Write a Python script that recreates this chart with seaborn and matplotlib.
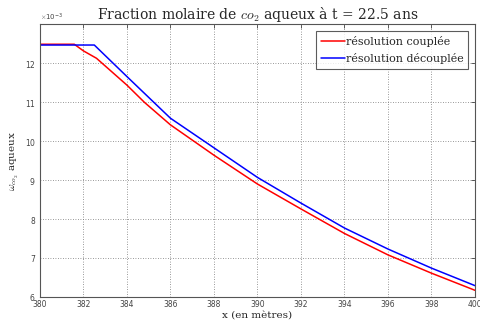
import matplotlib
matplotlib.use("Agg")
import matplotlib.pyplot as plt
import matplotlib.ticker as mticker
import seaborn as sns
import pandas as pd

# Data (y values in units of 1e-3)
x_couplee = [380, 381.58, 382.0, 382.6, 384.0, 384.8, 386.0, 388.0, 390.0, 392.0, 394.0, 396.0, 398.0, 400.0]
y_couplee = [12.49, 12.49, 12.32, 12.13, 11.44, 11.0, 10.42, 9.64, 8.90, 8.26, 7.63, 7.08, 6.61, 6.17]
x_decouplee = [380, 382.5, 384.0, 386.0, 388.0, 390.0, 391.0, 392.0, 394.0, 396.0, 398.0, 400.0]
y_decouplee = [12.47, 12.47, 11.66, 10.59, 9.83, 9.07, 8.74, 8.41, 7.77, 7.23, 6.74, 6.29]
scale = 1e-3
labels = ["résolution couplée", "résolution découplée"]

df = pd.concat([
    pd.DataFrame({"x": x_couplee, "y": [v * scale for v in y_couplee], "serie": labels[0]}),
    pd.DataFrame({"x": x_decouplee, "y": [v * scale for v in y_decouplee], "serie": labels[1]}),
])

sns.set_style("white")
plt.rcParams["mathtext.fontset"] = "cm"
serif = ["DejaVu Serif"]

fig = plt.figure(figsize=(4.81, 3.21), dpi=100)
ax = fig.add_axes([0.083, 0.075, 0.9045, 0.849])

sns.lineplot(data=df, x="x", y="y", hue="serie", palette=["#ff0000", "#0000ff"],
             linewidth=1.1, ax=ax, sort=False, estimator=None)

ax.set_xlim(380, 400)
ax.set_ylim(6e-3, 13e-3)
ax.set_xticks(range(380, 401, 2))
ax.set_yticks([v * scale for v in range(6, 13)])
fmt = mticker.ScalarFormatter(useMathText=True)
fmt.set_powerlimits((-3, -3))
ax.yaxis.set_major_formatter(fmt)
ax.yaxis.get_offset_text().set_fontsize(5)
ax.yaxis.get_offset_text().set_color("#444444")

ax.tick_params(axis="both", direction="in", length=3, width=0.6, labelsize=5.5,
               colors="#444444", top=True, right=True)
ax.tick_params(axis="y", pad=3)
ax.tick_params(axis="x", pad=2.5)
ax.grid(True, linestyle=(0, (1, 2)), color="#777777", linewidth=0.6)
for s in ax.spines.values():
    s.set_color("#555555")
    s.set_linewidth(0.8)

ax.set_title("Fraction molaire de $co_2$ aqueux à t = 22.5 ans", family=serif,
             fontsize=10, pad=4)
ax.set_xlabel("x (en mètres)", family=serif, fontsize=7.5)
ax.xaxis.set_label_coords(0.5, -0.05)
ax.set_ylabel(r"$\omega_{co_2}$ aqueux", family=serif, fontsize=7.5)
ax.yaxis.set_label_coords(-0.044, 0.5)

leg = ax.legend(loc="upper right", prop={"family": serif, "size": 8}, frameon=True,
                fancybox=False, edgecolor="#333333", handlelength=2.2, handletextpad=0.1,
                borderpad=0.4, labelspacing=0.6, borderaxespad=0.6)
leg.get_frame().set_linewidth(0.8)

fig.savefig("out.png", dpi=100)
